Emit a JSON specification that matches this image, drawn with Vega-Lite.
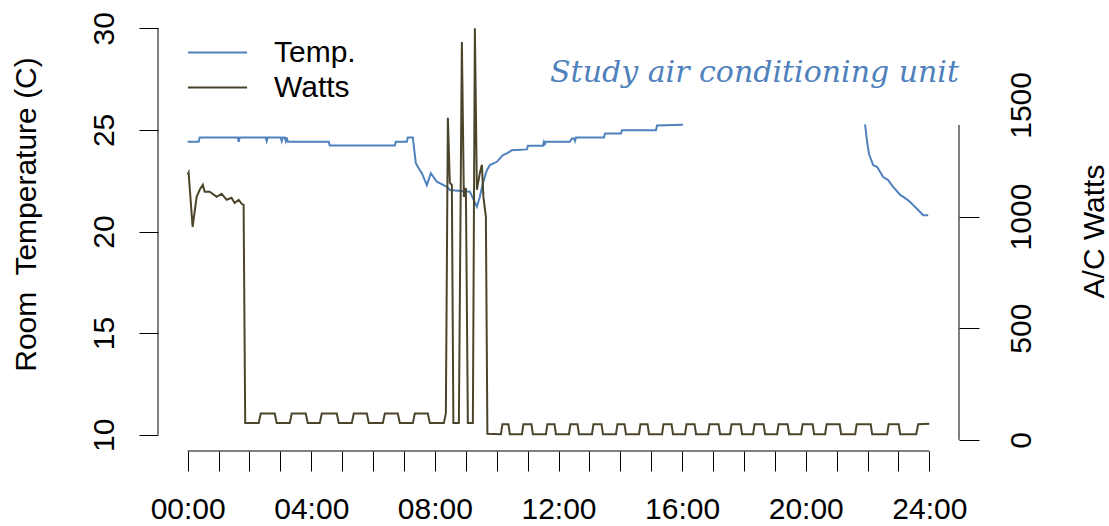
{
  "$schema": "https://vega.github.io/schema/vega-lite/v6.json",
  "width": 801,
  "height": 439,
  "autosize": {"type": "none"},
  "padding": {"left": 158, "top": 12, "right": 150, "bottom": 75},
  "background": "white",
  "title": {
    "text": "Study air conditioning unit",
    "anchor": "end",
    "frame": "group",
    "orient": "top",
    "offset": 0,
    "baseline": "alphabetic",
    "align": "right",
    "dy": 100,
    "font": "DejaVu Serif",
    "fontStyle": "italic",
    "fontWeight": "normal",
    "fontSize": 30,
    "color": "#4F81BD"
  },
  "config": {
    "view": {"stroke": null},
    "font": "Liberation Sans",
    "axis": {
      "grid": false,
      "domain": false,
      "tickColor": "black",
      "tickWidth": 1,
      "labelColor": "black",
      "titleColor": "black",
      "labelFont": "Liberation Sans",
      "titleFont": "Liberation Sans",
      "labelFontSize": 30,
      "titleFontSize": 30,
      "titleFontWeight": "normal",
      "labelOverlap": false,
      "labelFlush": false,
      "labelBound": false
    }
  },
  "datasets": {
    "temp": [
      {"hour": 0, "temp": 24.41, "seg": "a"},
      {"hour": 0.356, "temp": 24.41, "seg": "a"},
      {"hour": 0.389, "temp": 24.63, "seg": "a"},
      {"hour": 1.619, "temp": 24.63, "seg": "a"},
      {"hour": 1.652, "temp": 24.41, "seg": "a"},
      {"hour": 1.684, "temp": 24.63, "seg": "a"},
      {"hour": 2.526, "temp": 24.63, "seg": "a"},
      {"hour": 2.558, "temp": 24.45, "seg": "a"},
      {"hour": 2.591, "temp": 24.63, "seg": "a"},
      {"hour": 3.012, "temp": 24.63, "seg": "a"},
      {"hour": 3.044, "temp": 24.45, "seg": "a"},
      {"hour": 3.077, "temp": 24.63, "seg": "a"},
      {"hour": 3.141, "temp": 24.63, "seg": "a"},
      {"hour": 3.174, "temp": 24.45, "seg": "a"},
      {"hour": 3.206, "temp": 24.63, "seg": "a"},
      {"hour": 3.238, "temp": 24.41, "seg": "a"},
      {"hour": 4.566, "temp": 24.41, "seg": "a"},
      {"hour": 4.598, "temp": 24.23, "seg": "a"},
      {"hour": 6.703, "temp": 24.23, "seg": "a"},
      {"hour": 6.736, "temp": 24.41, "seg": "a"},
      {"hour": 7.092, "temp": 24.41, "seg": "a"},
      {"hour": 7.124, "temp": 24.63, "seg": "a"},
      {"hour": 7.286, "temp": 24.63, "seg": "a"},
      {"hour": 7.383, "temp": 23.36, "seg": "a"},
      {"hour": 7.48, "temp": 23.1, "seg": "a"},
      {"hour": 7.578, "temp": 22.87, "seg": "a"},
      {"hour": 7.74, "temp": 22.28, "seg": "a"},
      {"hour": 7.869, "temp": 22.87, "seg": "a"},
      {"hour": 8.063, "temp": 22.45, "seg": "a"},
      {"hour": 8.387, "temp": 22.2, "seg": "a"},
      {"hour": 8.484, "temp": 22.04, "seg": "a"},
      {"hour": 9.132, "temp": 21.96, "seg": "a"},
      {"hour": 9.229, "temp": 21.64, "seg": "a"},
      {"hour": 9.359, "temp": 21.22, "seg": "a"},
      {"hour": 9.456, "temp": 21.71, "seg": "a"},
      {"hour": 9.553, "temp": 22.38, "seg": "a"},
      {"hour": 9.683, "temp": 23.02, "seg": "a"},
      {"hour": 9.78, "temp": 23.27, "seg": "a"},
      {"hour": 10.006, "temp": 23.43, "seg": "a"},
      {"hour": 10.104, "temp": 23.6, "seg": "a"},
      {"hour": 10.201, "temp": 23.76, "seg": "a"},
      {"hour": 10.33, "temp": 23.84, "seg": "a"},
      {"hour": 10.492, "temp": 24.0, "seg": "a"},
      {"hour": 10.978, "temp": 24.04, "seg": "a"},
      {"hour": 11.01, "temp": 24.22, "seg": "a"},
      {"hour": 11.496, "temp": 24.22, "seg": "a"},
      {"hour": 11.529, "temp": 24.41, "seg": "a"},
      {"hour": 11.561, "temp": 24.3, "seg": "a"},
      {"hour": 11.593, "temp": 24.41, "seg": "a"},
      {"hour": 12.37, "temp": 24.41, "seg": "a"},
      {"hour": 12.435, "temp": 24.58, "seg": "a"},
      {"hour": 12.5, "temp": 24.58, "seg": "a"},
      {"hour": 12.532, "temp": 24.45, "seg": "a"},
      {"hour": 12.565, "temp": 24.63, "seg": "a"},
      {"hour": 13.472, "temp": 24.63, "seg": "a"},
      {"hour": 13.504, "temp": 24.82, "seg": "a"},
      {"hour": 14.022, "temp": 24.82, "seg": "a"},
      {"hour": 14.054, "temp": 24.98, "seg": "a"},
      {"hour": 15.155, "temp": 24.98, "seg": "a"},
      {"hour": 15.188, "temp": 25.22, "seg": "a"},
      {"hour": 16.03, "temp": 25.25, "seg": "a"},
      {"hour": 21.92, "temp": 25.27, "seg": "b"},
      {"hour": 21.988, "temp": 24.4, "seg": "b"},
      {"hour": 22.05, "temp": 23.8, "seg": "b"},
      {"hour": 22.183, "temp": 23.27, "seg": "b"},
      {"hour": 22.312, "temp": 23.17, "seg": "b"},
      {"hour": 22.506, "temp": 22.68, "seg": "b"},
      {"hour": 22.668, "temp": 22.53, "seg": "b"},
      {"hour": 22.83, "temp": 22.19, "seg": "b"},
      {"hour": 23.057, "temp": 21.8, "seg": "b"},
      {"hour": 23.219, "temp": 21.64, "seg": "b"},
      {"hour": 23.381, "temp": 21.45, "seg": "b"},
      {"hour": 23.478, "temp": 21.3, "seg": "b"},
      {"hour": 23.64, "temp": 21.06, "seg": "b"},
      {"hour": 23.802, "temp": 20.8, "seg": "b"},
      {"hour": 23.964, "temp": 20.8, "seg": "b"}
    ],
    "watts": [
      {"hour": 0, "watts": 1187}, {"hour": 0.03, "watts": 1196}, {"hour": 0.16, "watts": 954},
      {"hour": 0.29, "watts": 1088}, {"hour": 0.39, "watts": 1120}, {"hour": 0.49, "watts": 1142},
      {"hour": 0.55, "watts": 1111}, {"hour": 0.71, "watts": 1111}, {"hour": 0.94, "watts": 1088},
      {"hour": 1.1, "watts": 1102}, {"hour": 1.26, "watts": 1075}, {"hour": 1.42, "watts": 1084},
      {"hour": 1.52, "watts": 1061}, {"hour": 1.65, "watts": 1075}, {"hour": 1.75, "watts": 1057},
      {"hour": 1.81, "watts": 1052}, {"hour": 1.862, "watts": 75},
      {"hour": 2.299, "watts": 75}, {"hour": 2.364, "watts": 118}, {"hour": 2.817, "watts": 118}, {"hour": 2.882, "watts": 75},
      {"hour": 3.303, "watts": 75}, {"hour": 3.368, "watts": 118}, {"hour": 3.821, "watts": 118}, {"hour": 3.886, "watts": 75},
      {"hour": 4.275, "watts": 75}, {"hour": 4.339, "watts": 118}, {"hour": 4.825, "watts": 118}, {"hour": 4.89, "watts": 75},
      {"hour": 5.311, "watts": 75}, {"hour": 5.376, "watts": 118}, {"hour": 5.797, "watts": 118}, {"hour": 5.861, "watts": 75},
      {"hour": 6.315, "watts": 75}, {"hour": 6.38, "watts": 118}, {"hour": 6.801, "watts": 118}, {"hour": 6.865, "watts": 75},
      {"hour": 7.286, "watts": 75}, {"hour": 7.351, "watts": 118}, {"hour": 7.772, "watts": 118}, {"hour": 7.837, "watts": 75},
      {"hour": 8.29, "watts": 75}, {"hour": 8.355, "watts": 118}, {"hour": 8.42, "watts": 1442},
      {"hour": 8.484, "watts": 1151}, {"hour": 8.549, "watts": 1142}, {"hour": 8.598, "watts": 75},
      {"hour": 8.776, "watts": 75}, {"hour": 8.873, "watts": 1782}, {"hour": 8.938, "watts": 1088},
      {"hour": 9.003, "watts": 1128}, {"hour": 9.067, "watts": 75}, {"hour": 9.229, "watts": 75},
      {"hour": 9.294, "watts": 1843}, {"hour": 9.359, "watts": 1120}, {"hour": 9.456, "watts": 1196},
      {"hour": 9.521, "watts": 1232}, {"hour": 9.57, "watts": 1088}, {"hour": 9.65, "watts": 1000},
      {"hour": 9.699, "watts": 27},
      {"hour": 10.136, "watts": 25}, {"hour": 10.185, "watts": 70}, {"hour": 10.379, "watts": 70}, {"hour": 10.427, "watts": 25},
      {"hour": 10.816, "watts": 25}, {"hour": 10.865, "watts": 70}, {"hour": 11.124, "watts": 70}, {"hour": 11.172, "watts": 25},
      {"hour": 11.593, "watts": 25}, {"hour": 11.642, "watts": 70}, {"hour": 11.869, "watts": 70}, {"hour": 11.917, "watts": 25},
      {"hour": 12.338, "watts": 25}, {"hour": 12.387, "watts": 70}, {"hour": 12.614, "watts": 70}, {"hour": 12.662, "watts": 25},
      {"hour": 13.083, "watts": 25}, {"hour": 13.132, "watts": 70}, {"hour": 13.391, "watts": 70}, {"hour": 13.439, "watts": 25},
      {"hour": 13.86, "watts": 25}, {"hour": 13.909, "watts": 70}, {"hour": 14.135, "watts": 70}, {"hour": 14.184, "watts": 25},
      {"hour": 14.605, "watts": 25}, {"hour": 14.653, "watts": 70}, {"hour": 14.88, "watts": 70}, {"hour": 14.929, "watts": 25},
      {"hour": 15.35, "watts": 25}, {"hour": 15.398, "watts": 70}, {"hour": 15.657, "watts": 70}, {"hour": 15.706, "watts": 25},
      {"hour": 16.095, "watts": 25}, {"hour": 16.143, "watts": 70}, {"hour": 16.402, "watts": 70}, {"hour": 16.451, "watts": 25},
      {"hour": 16.839, "watts": 25}, {"hour": 16.888, "watts": 70}, {"hour": 17.179, "watts": 70}, {"hour": 17.228, "watts": 25},
      {"hour": 17.552, "watts": 25}, {"hour": 17.601, "watts": 70}, {"hour": 17.892, "watts": 70}, {"hour": 17.94, "watts": 25},
      {"hour": 18.297, "watts": 25}, {"hour": 18.345, "watts": 70}, {"hour": 18.637, "watts": 70}, {"hour": 18.685, "watts": 25},
      {"hour": 19.074, "watts": 25}, {"hour": 19.122, "watts": 70}, {"hour": 19.414, "watts": 70}, {"hour": 19.462, "watts": 25},
      {"hour": 19.851, "watts": 25}, {"hour": 19.9, "watts": 70}, {"hour": 20.224, "watts": 70}, {"hour": 20.272, "watts": 25},
      {"hour": 20.628, "watts": 25}, {"hour": 20.677, "watts": 70}, {"hour": 21.098, "watts": 70}, {"hour": 21.146, "watts": 25},
      {"hour": 21.6, "watts": 25}, {"hour": 21.649, "watts": 70}, {"hour": 22.102, "watts": 70}, {"hour": 22.15, "watts": 25},
      {"hour": 22.636, "watts": 25}, {"hour": 22.685, "watts": 70}, {"hour": 23.008, "watts": 70}, {"hour": 23.057, "watts": 25},
      {"hour": 23.575, "watts": 25}, {"hour": 23.64, "watts": 70}, {"hour": 24.0, "watts": 72}
    ]
  },
  "layer": [
    {
      "layer": [
        {
          "data": {"name": "temp"},
          "mark": {"type": "line", "strokeWidth": 2},
          "encoding": {
            "x": {
              "field": "hour",
              "type": "quantitative",
              "scale": {"domain": [-0.96, 24.96], "nice": false, "zero": false},
              "axis": {
                "title": null,
                "values": [0,1,2,3,4,5,6,7,8,9,10,11,12,13,14,15,16,17,18,19,20,21,22,23,24],
                "labelExpr": "datum.value % 4 == 0 ? ((datum.value < 10 ? '0' : '') + datum.value + ':00') : ''",
                "tickSize": 20,
                "labelPadding": 47,
                "labelBaseline": "alphabetic",
                "labelAlign": "center",
                "labelFontSize": 30
              }
            },
            "y": {
              "field": "temp",
              "type": "quantitative",
              "scale": {"domain": [9.2, 30.8], "nice": false, "zero": false},
              "axis": {
                "title": "Room\u00a0 Temperature (C)",
                "values": [10, 15, 20, 25, 30],
                "tickSize": 19,
                "labelAngle": 270,
                "labelAlign": "center",
                "labelBaseline": "alphabetic",
                "labelPadding": 26,
                "titleAngle": 270,
                "titleAlign": "center",
                "titleBaseline": "alphabetic",
                "titleX": -123,
                "titleY": 202
              }
            },
            "detail": {"field": "seg"},
            "color": {
              "datum": "Temp.",
              "scale": {"domain": ["Temp.", "Watts"], "range": ["#4F81BD", "#4A452A"]},
              "legend": {
                "orient": "none",
                "legendX": 40,
                "legendY": 21,
                "title": null,
                "symbolType": "M-1.6,0H1.6",
                "symbolSize": 1369,
                "symbolStrokeWidth": 2,
                "labelFont": "Liberation Sans",
                "labelFontSize": 30,
                "labelColor": "black",
                "labelOffset": 37,
                "rowPadding": 0,
                "padding": 0,
                "direction": "vertical"
              }
            }
          }
        },
        {
          "data": {"values": [{}]},
          "mark": {"type": "rule", "color": "black", "strokeWidth": 1},
          "encoding": {
            "x": {
              "datum": -0.96,
              "type": "quantitative",
              "axis": {
                "title": null,
                "values": [0,1,2,3,4,5,6,7,8,9,10,11,12,13,14,15,16,17,18,19,20,21,22,23,24],
                "labelExpr": "datum.value % 4 == 0 ? ((datum.value < 10 ? '0' : '') + datum.value + ':00') : ''",
                "tickSize": 20,
                "labelPadding": 47,
                "labelBaseline": "alphabetic",
                "labelAlign": "center",
                "labelFontSize": 30
              }
            },
            "y": {"datum": 10, "type": "quantitative"},
            "y2": {"datum": 30}
          }
        },
        {
          "data": {"values": [{}]},
          "mark": {"type": "rule", "color": "black", "strokeWidth": 1},
          "encoding": {
            "x": {
              "datum": 0,
              "type": "quantitative",
              "axis": {
                "title": null,
                "values": [0,1,2,3,4,5,6,7,8,9,10,11,12,13,14,15,16,17,18,19,20,21,22,23,24],
                "labelExpr": "datum.value % 4 == 0 ? ((datum.value < 10 ? '0' : '') + datum.value + ':00') : ''",
                "tickSize": 20,
                "labelPadding": 47,
                "labelBaseline": "alphabetic",
                "labelAlign": "center",
                "labelFontSize": 30
              }
            },
            "x2": {"datum": 24},
            "y": {"datum": 9.2, "type": "quantitative"}
          }
        }
      ]
    },
    {
      "layer": [
        {
          "data": {"name": "watts"},
          "mark": {"type": "line", "strokeWidth": 2},
          "encoding": {
            "x": {
              "field": "hour",
              "type": "quantitative",
              "axis": {
                "title": null,
                "values": [0,1,2,3,4,5,6,7,8,9,10,11,12,13,14,15,16,17,18,19,20,21,22,23,24],
                "labelExpr": "datum.value % 4 == 0 ? ((datum.value < 10 ? '0' : '') + datum.value + ':00') : ''",
                "tickSize": 20,
                "labelPadding": 47,
                "labelBaseline": "alphabetic",
                "labelAlign": "center",
                "labelFontSize": 30
              }
            },
            "y": {
              "field": "watts",
              "type": "quantitative",
              "scale": {"domain": [-50, 1916], "nice": false, "zero": false},
              "axis": {
                "orient": "right",
                "title": "A/C Watts",
                "values": [0, 500, 1000, 1500],
                "format": "d",
                "tickSize": 20,
                "tickOpacity": {"condition": {"test": "datum.value > 1200", "value": 0}, "value": 1},
                "labelAngle": 270,
                "labelAlign": "center",
                "labelBaseline": "alphabetic",
                "labelPadding": 51,
                "titleAngle": 270,
                "titleAlign": "center",
                "titleBaseline": "alphabetic",
                "titleX": 144,
                "titleY": 219
              }
            },
            "color": {"datum": "Watts"}
          }
        },
        {
          "data": {"values": [{}]},
          "mark": {"type": "rule", "color": "black", "strokeWidth": 1},
          "encoding": {
            "x": {
              "datum": 24.96,
              "type": "quantitative",
              "axis": {
                "title": null,
                "values": [0,1,2,3,4,5,6,7,8,9,10,11,12,13,14,15,16,17,18,19,20,21,22,23,24],
                "labelExpr": "datum.value % 4 == 0 ? ((datum.value < 10 ? '0' : '') + datum.value + ':00') : ''",
                "tickSize": 20,
                "labelPadding": 47,
                "labelBaseline": "alphabetic",
                "labelAlign": "center",
                "labelFontSize": 30
              }
            },
            "y": {"datum": 0, "type": "quantitative"},
            "y2": {"datum": 1410}
          }
        }
      ]
    }
  ],
  "resolve": {"scale": {"y": "independent"}}
}
